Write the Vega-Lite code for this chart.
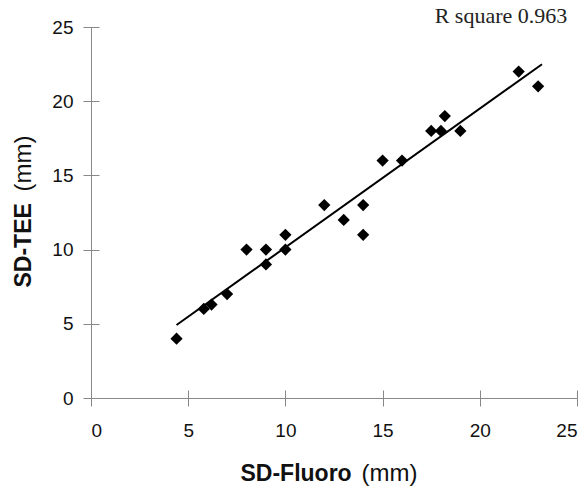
{
  "$schema": "https://vega.github.io/schema/vega-lite/v6.json",
  "autosize": "none",
  "width": 486,
  "height": 371,
  "padding": {"left": 91, "top": 27, "right": 10, "bottom": 97},
  "background": "white",
  "config": {"view": {"stroke": null}},
  "datasets": {
    "pts": [
      {"fluoro": 4.4, "tee": 4},
      {"fluoro": 5.8, "tee": 6},
      {"fluoro": 6.2, "tee": 6.3},
      {"fluoro": 7, "tee": 7},
      {"fluoro": 8, "tee": 10},
      {"fluoro": 9, "tee": 10},
      {"fluoro": 9, "tee": 9},
      {"fluoro": 10, "tee": 11},
      {"fluoro": 10, "tee": 10},
      {"fluoro": 12, "tee": 13},
      {"fluoro": 13, "tee": 12},
      {"fluoro": 14, "tee": 13},
      {"fluoro": 14, "tee": 11},
      {"fluoro": 15, "tee": 16},
      {"fluoro": 16, "tee": 16},
      {"fluoro": 17.5, "tee": 18},
      {"fluoro": 18, "tee": 18},
      {"fluoro": 18.2, "tee": 19},
      {"fluoro": 19, "tee": 18},
      {"fluoro": 22, "tee": 22},
      {"fluoro": 23, "tee": 21}
    ],
    "note": [{"fluoro": 24.5, "tee": 25.3, "label": "R square 0.963"}]
  },
  "resolve": {"axis": {"x": "independent", "y": "independent"}},
  "layer": [
    {
      "data": {"name": "pts"},
      "mark": {"type": "point", "shape": "diamond", "filled": true, "color": "black", "size": 150, "opacity": 1},
      "encoding": {
        "x": {
          "field": "fluoro", "type": "quantitative",
          "scale": {"domain": [0, 25], "nice": false, "zero": false},
          "axis": {
            "orient": "bottom",
            "title": "SD-Fluoro", "values": [0, 5, 10, 15, 20, 25], "grid": false,
            "domainColor": "#888", "tickColor": "#888", "tickSize": 8,
            "labelFont": "Liberation Sans", "labelFontSize": 19, "labelColor": "#111", "labelPadding": 15,
            "titleFont": "Liberation Sans", "titleFontSize": 23, "titleFontWeight": "bold", "titleColor": "#111",
            "titleAlign": "left", "titleBaseline": "alphabetic", "titleX": 149, "titleY": 82, "titleAngle": 0
          }
        },
        "y": {
          "field": "tee", "type": "quantitative",
          "scale": {"domain": [0, 25], "nice": false, "zero": false},
          "axis": {
            "orient": "left",
            "title": "SD-TEE", "values": [0, 5, 10, 15, 20, 25], "grid": false,
            "domainColor": "#888", "tickColor": "#888", "tickSize": 8,
            "labelFont": "Liberation Sans", "labelFontSize": 19, "labelColor": "#111", "labelPadding": 10,
            "titleFont": "Liberation Sans", "titleFontSize": 23, "titleFontWeight": "bold", "titleColor": "#111",
            "titleAlign": "left", "titleBaseline": "alphabetic", "titleAngle": 270, "titleX": -61, "titleY": 260
          }
        }
      }
    },
    {
      "data": {"name": "pts"},
      "transform": [{"regression": "tee", "on": "fluoro", "extent": [4.4, 23.2]}],
      "mark": {"type": "line", "color": "black", "strokeWidth": 2},
      "encoding": {
        "x": {
          "field": "fluoro", "type": "quantitative",
          "axis": {
            "orient": "bottom",
            "title": "(mm)", "values": [0, 5, 10, 15, 20, 25], "grid": false,
            "domain": false, "labels": false, "tickColor": "#888", "tickSize": -8,
            "titleFont": "Liberation Sans", "titleFontSize": 24, "titleFontWeight": "normal", "titleColor": "#111",
            "titleAlign": "right", "titleBaseline": "alphabetic", "titleX": 326, "titleY": 82, "titleAngle": 0
          }
        },
        "y": {
          "field": "tee", "type": "quantitative",
          "axis": {
            "orient": "left",
            "title": "(mm)", "values": [0, 5, 10, 15, 20, 25], "grid": false,
            "domain": false, "labels": false, "tickColor": "#888", "tickSize": -8,
            "titleFont": "Liberation Sans", "titleFontSize": 24, "titleFontWeight": "normal", "titleColor": "#111",
            "titleAlign": "right", "titleBaseline": "alphabetic", "titleAngle": 270, "titleX": -61, "titleY": 108
          }
        }
      }
    },
    {
      "data": {"name": "note"},
      "mark": {"type": "text", "align": "right", "baseline": "alphabetic", "font": "Liberation Serif", "fontSize": 22, "color": "#222"},
      "encoding": {
        "x": {"field": "fluoro", "type": "quantitative", "axis": null},
        "y": {"field": "tee", "type": "quantitative", "axis": null},
        "text": {"field": "label"}
      }
    }
  ]
}
